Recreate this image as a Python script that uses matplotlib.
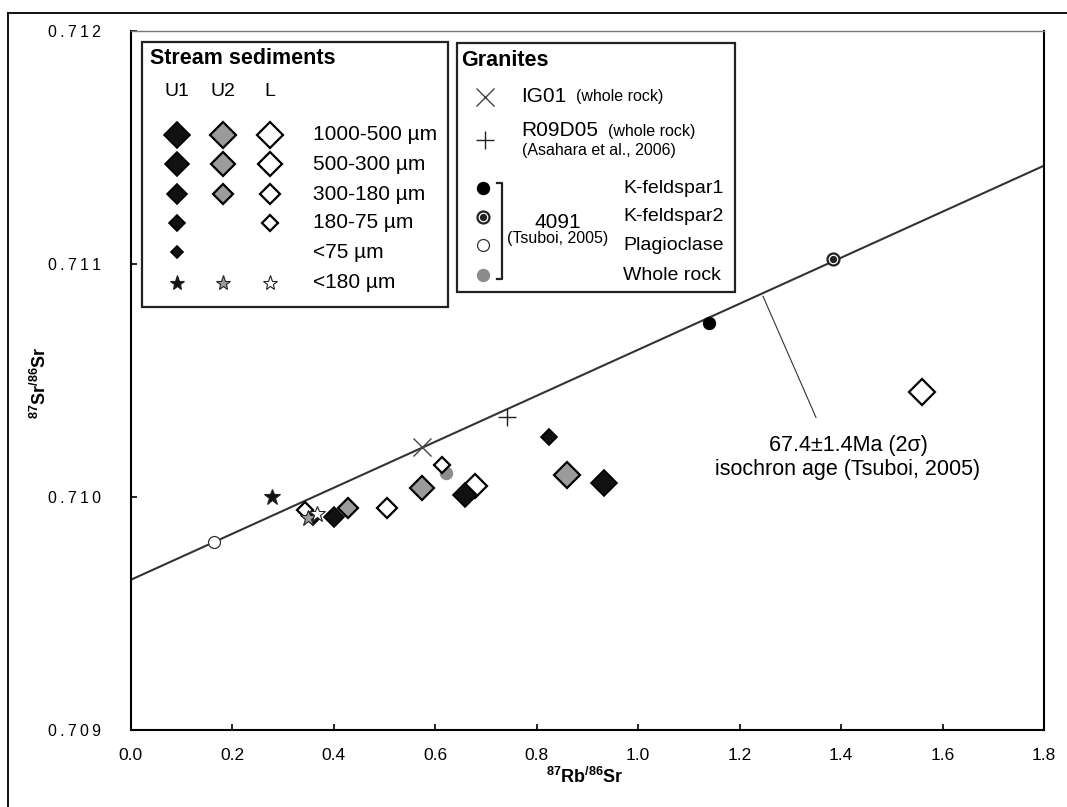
import matplotlib
matplotlib.use('Agg')
import matplotlib.pyplot as plt
from matplotlib.lines import Line2D
from matplotlib.patches import Rectangle
from matplotlib import font_manager

plt.rcParams['font.family'] = ['Liberation Sans', 'DejaVu Sans']
plt.rcParams['mathtext.default'] = 'regular'

narrow = 'Liberation Sans Narrow'
if narrow not in {f.name for f in font_manager.fontManager.ttflist}:
    narrow = 'Liberation Sans'

# --- data ---
# stream sediments: U1 (black), U2 (gray), L (open); size class per point
u1_cls = ['1000-500', '500-300', '300-180', '180-75', '<75']
u1_rb = [0.933, 0.659, 0.400, 0.825, 0.359]
u1_sr = [0.710059, 0.710009, 0.709913, 0.710259, 0.709904]

u2_cls = ['1000-500', '500-300', '300-180']
u2_rb = [0.861, 0.575, 0.429]
u2_sr = [0.710094, 0.710037, 0.709951]

l_cls = ['1000-500', '500-300', '300-180', '180-75', '180-75']
l_rb = [1.559, 0.679, 0.506, 0.614, 0.343]
l_sr = [0.710452, 0.710047, 0.709951, 0.710137, 0.709944]

# <180 µm (stars) U1, U2, L
star_rb = [0.278, 0.349, 0.367]
star_sr = [0.709999, 0.709909, 0.709926]

# granites
ig01 = (0.574, 0.710216)
r09d05 = (0.741, 0.710342)
kfs1 = (1.140, 0.710747)
kfs2 = (1.385, 0.711020)
plag = (0.165, 0.709808)
wr4091 = (0.621, 0.710104)

# isochron line end points
iso_x = [0.0, 1.8]
iso_y = [0.709644, 0.711422]

xticks = [0.0, 0.2, 0.4, 0.6, 0.8, 1.0, 1.2, 1.4, 1.6, 1.8]
yticks = [0.709, 0.710, 0.711, 0.712]

# --- style ---
ms_cls = {'1000-500': 13.5, '500-300': 12.0, '300-180': 10.0, '180-75': 7.8, '<75': 6.2}
BLACK, GRAY, WHITE = '#111111', '#9b9b9b', 'white'

W, H = 1067, 807
def fx(px):
    return px / W
def fy(py):
    return 1 - py / H

fig = plt.figure(figsize=(W / 100, H / 100), dpi=100)
ax = fig.add_axes([fx(130.5), fy(730), fx(1044) - fx(130.5), fy(31) - fy(730)])

ax.plot(iso_x, iso_y, color='#333333', lw=1.5, zorder=2)

# granites
ax.plot(*plag, 'o', ms=8.6, mfc='white', mec='#333333', mew=0.9, zorder=3)
ax.plot(*wr4091, 'o', ms=8.6, mfc='#8c8c8c', mec='#8c8c8c', zorder=3)
ax.plot(*kfs1, 'o', ms=8.6, mfc='black', mec='black', zorder=3)
ax.plot(*kfs2, 'o', ms=8.6, mfc='white', mec='#222222', mew=1.6, zorder=3)
ax.plot(*kfs2, 'o', ms=4.2, mfc='#222222', mec='#222222', zorder=3)
ax.plot(*ig01, 'x', ms=13, mec='#444444', mew=1.0, zorder=3)
ax.plot(*r09d05, '+', ms=13, mec='#222222', mew=1.0, zorder=3)

# sediments
for cls, xv, yv in zip(l_cls, l_rb, l_sr):
    ax.plot(xv, yv, 'D', ms=ms_cls[cls], mfc=WHITE, mec='black', mew=1.6, zorder=4)
for cls, xv, yv in zip(u2_cls, u2_rb, u2_sr):
    ax.plot(xv, yv, 'D', ms=ms_cls[cls], mfc=GRAY, mec='black', mew=1.6, zorder=4)
for cls, xv, yv in zip(u1_cls, u1_rb, u1_sr):
    ax.plot(xv, yv, 'D', ms=ms_cls[cls], mfc=BLACK, mec='black', mew=1.2, zorder=4)
for xv, yv, c in zip(star_rb, star_sr, [BLACK, GRAY, WHITE]):
    ax.plot(xv, yv, '*', ms=12, mfc=c, mec='#222222', mew=0.8, zorder=5)

ax.set_xlim(0, 1.8)
ax.set_ylim(0.709, 0.712)
ax.set_xticks(xticks)
ax.set_xticklabels([f'{v:.1f}' for v in xticks], fontfamily=narrow, fontsize=12.5)
ax.set_yticks(yticks)
# the reference prints the y labels slightly letter-spaced
ax.set_yticklabels(['\u2009'.join(f'{v:.3f}') for v in yticks], fontsize=11.5)
ax.tick_params(axis='x', direction='in', length=4.5, width=1.2, pad=13, color='black')
ax.tick_params(axis='y', direction='in', length=4.5, width=1.2, pad=21, color='black')
for s in ['left', 'bottom', 'right']:
    ax.spines[s].set_linewidth(1.5)
    ax.spines[s].set_color('black')
ax.spines['top'].set_linewidth(1.0)
ax.spines['top'].set_color('#777777')

fig.text(fx(585), fy(777), r'$^{87}$Rb$^{/86}$Sr', fontsize=13, fontweight='bold',
         ha='center', va='center')
fig.text(fx(40), fy(383), r'$^{87}$Sr$^{/86}$Sr', fontsize=13, fontweight='bold',
         ha='center', va='center', rotation=90)

# leader and isochron label
ax.annotate('', xy=(1.244, 0.710873), xytext=(1.353, 0.710330),
            arrowprops=dict(arrowstyle='-', color='#333333', lw=0.8))
fig.text(fx(848), fy(446), '67.4±1.4Ma (2σ)', fontsize=15.5, ha='center', va='center')
fig.text(fx(848), fy(469), 'isochron age (Tsuboi, 2005)', fontsize=15.5, ha='center', va='center')

# outer frame lines
fig.add_artist(Line2D([fx(8), fx(8)], [fy(13), 0], transform=fig.transFigure, color='black', lw=1.3))
fig.add_artist(Line2D([fx(8), 1], [fy(13), fy(13)], transform=fig.transFigure, color='black', lw=1.3))

def box(x0, y0, x1, y1):
    fig.add_artist(Rectangle((fx(x0), fy(y1)), fx(x1) - fx(x0), fy(y0) - fy(y1),
                             transform=fig.transFigure, facecolor='white',
                             edgecolor='#222222', lw=1.6, zorder=5))

def mark(px, py, **kw):
    fig.add_artist(Line2D([fx(px)], [fy(py)], transform=fig.transFigure, ls='none', zorder=6, **kw))

def txt(px, py, s, **kw):
    fig.text(fx(px), fy(py), s, va='center', zorder=7, **kw)

# stream sediments legend
box(141.5, 41.5, 448, 307)
txt(150, 58, 'Stream sediments', fontsize=15.5, fontweight='bold')
col_x = [176.7, 223, 270]
for cx, name in zip(col_x, ['U1', 'U2', 'L']):
    txt(cx, 91.5, name, fontsize=14, ha='center')
row_y = [135, 164, 194, 223, 252, 283]
cls_order = ['1000-500', '500-300', '300-180', '180-75', '<75']
row_labels = ['1000-500 µm', '500-300 µm', '300-180 µm', '180-75 µm', '<75 µm', '<180 µm']
for ry, lab in zip(row_y, row_labels):
    txt(313, ry, lab, fontsize=15)
for cx, clist, face, mew in [(col_x[0], u1_cls, BLACK, 1.2), (col_x[1], u2_cls, GRAY, 1.6),
                             (col_x[2], l_cls, WHITE, 1.6)]:
    for ry, cls in zip(row_y, cls_order):
        if cls in clist:
            mark(cx, ry, marker='D', ms=ms_cls[cls], mfc=face, mec='black', mew=mew)
for cx, face in zip(col_x, [BLACK, GRAY, WHITE]):
    mark(cx, row_y[5], marker='*', ms=11, mfc=face, mec='#222222', mew=0.8)

# granites legend
box(457, 43, 735, 292)
txt(461.5, 60, 'Granites', fontsize=15.5, fontweight='bold')
mark(485, 96.5, marker='x', ms=13, mec='#444444', mew=1.0)
txt(521.5, 96.5, 'IG01', fontsize=15)
txt(576, 97, '(whole rock)', fontsize=11.5)
mark(485, 140, marker='+', ms=13, mec='#222222', mew=1.0)
txt(521.5, 131, 'R09D05', fontsize=15)
txt(608, 131.5, '(whole rock)', fontsize=11.5)
txt(521.5, 150, '(Asahara et al., 2006)', fontsize=11.5)
gy = [188.3, 216.7, 245, 275]
mark(483.3, gy[0], marker='o', ms=8.6, mfc='black', mec='black')
mark(483.3, gy[1], marker='o', ms=8.6, mfc='white', mec='#222222', mew=1.6)
mark(483.3, gy[1], marker='o', ms=4.2, mfc='#222222', mec='#222222')
mark(483.3, gy[2], marker='o', ms=8.6, mfc='white', mec='#333333', mew=0.9)
mark(483.3, gy[3], marker='o', ms=8.6, mfc='#8c8c8c', mec='#8c8c8c')
fig.add_artist(Line2D([fx(496.5), fx(501.7), fx(501.7), fx(496.5)],
                      [fy(182.7), fy(182.7), fy(279), fy(279)],
                      transform=fig.transFigure, color='#222222', lw=1.6, zorder=6))
txt(558, 222.5, '4091', fontsize=15, ha='center')
txt(558, 239, '(Tsuboi, 2005)', fontsize=11.5, ha='center')
for ry, lab in zip(gy, ['K-feldspar1', 'K-feldspar2', 'Plagioclase', 'Whole rock']):
    txt(623.3, ry, lab, fontsize=14)

fig.savefig('out.png', dpi=100)
